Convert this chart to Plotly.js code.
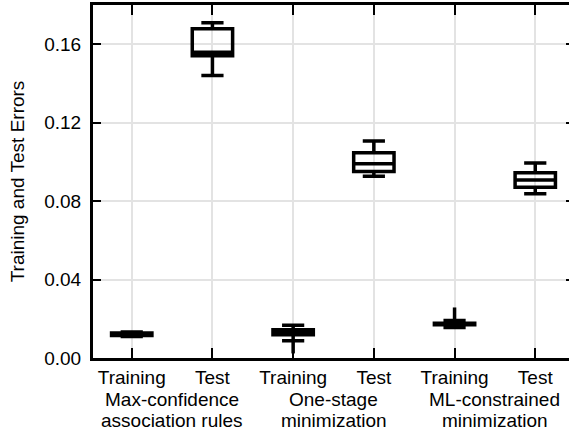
<!DOCTYPE html>
<html>
<head>
<meta charset="utf-8">
<script src="https://cdn.plot.ly/plotly-3.0.1.min.js"></script>
<style>
html, body { margin: 0; padding: 0; overflow: hidden; background: #fff; }
#chart { width: 574px; height: 432px; }
</style>
</head>
<body>
<div id="chart"></div>
<script>
// Category positions and labels
var positions = [1, 2, 3, 4, 5, 6];
var tickLabels = ['Training', 'Test', 'Training', 'Test', 'Training', 'Test'];
var groupCenters = [1.5, 3.5, 5.5];
var groupLine1 = ['Max-confidence', 'One-stage', 'ML-constrained'];
var groupLine2 = ['association rules', 'minimization', 'minimization'];

// Box statistics (training / test errors)
var lowerFence = [0.0110, 0.1441, 0.0088, 0.0927, 0.0155, 0.0837];
var q1         = [0.0115, 0.1541, 0.0118, 0.0951, 0.0169, 0.0871];
var median     = [0.0121, 0.1559, 0.0131, 0.0990, 0.0173, 0.0908];
var q3         = [0.0127, 0.1679, 0.0144, 0.1046, 0.0177, 0.0944];
var upperFence = [0.0132, 0.1709, 0.0167, 0.1106, 0.0191, 0.0994];

// Outliers
var outlierX = [3, 5];
var outlierY = [0.0059, 0.0222];

var yTicks = [0, 0.04, 0.08, 0.12, 0.16];

var FONT = 'Liberation Sans, Arial, Helvetica, sans-serif';

var traces = [
  {
    type: 'box',
    x: positions,
    q1: q1,
    median: median,
    q3: q3,
    lowerfence: lowerFence,
    upperfence: upperFence,
    width: 0.5,
    whiskerwidth: 0.55,
    boxpoints: false,
    fillcolor: 'rgba(0,0,0,0)',
    line: { color: '#000', width: 3.5 },
    showlegend: false,
    hoverinfo: 'skip'
  },
  {
    type: 'scatter',
    mode: 'markers',
    x: outlierX,
    y: outlierY,
    marker: { symbol: 'line-ns', size: 10, color: '#000', line: { color: '#000', width: 3.5 } },
    showlegend: false,
    hoverinfo: 'skip'
  }
];

var annotations = [];
for (var i = 0; i < groupCenters.length; i++) {
  annotations.push({
    x: groupCenters[i], xref: 'x', y: -0.117, yref: 'paper',
    text: groupLine1[i], showarrow: false, yanchor: 'middle', xanchor: 'center',
    font: { family: FONT, size: 19, color: '#000' }
  });
  annotations.push({
    x: groupCenters[i], xref: 'x', y: -0.176, yref: 'paper',
    text: groupLine2[i], showarrow: false, yanchor: 'middle', xanchor: 'center',
    font: { family: FONT, size: 19, color: '#000' }
  });
}

var layout = {
  width: 574,
  height: 432,
  margin: { l: 93, r: 0, t: 5, b: 74 },
  paper_bgcolor: '#fff',
  plot_bgcolor: '#fff',
  font: { family: FONT, size: 19, color: '#000' },
  showlegend: false,
  xaxis: {
    range: [0.52, 6.48],
    tickvals: positions,
    ticktext: tickLabels,
    ticks: 'inside',
    ticklen: 10,
    tickwidth: 2,
    tickcolor: '#000',
    showline: true,
    linewidth: 3,
    linecolor: '#000',
    mirror: 'ticks',
    showgrid: true,
    gridcolor: '#e3e3e3',
    gridwidth: 2,
    zeroline: false,
    tickfont: { family: FONT, size: 19, color: '#000' }
  },
  yaxis: {
    range: [0, 0.18],
    tickvals: yTicks,
    tickformat: '.2f',
    ticks: 'inside',
    ticklen: 8,
    tickwidth: 2,
    tickcolor: '#000',
    showline: true,
    linewidth: 3,
    linecolor: '#000',
    mirror: 'ticks',
    showgrid: true,
    gridcolor: '#e3e3e3',
    gridwidth: 2,
    zeroline: false,
    ticklabelstandoff: 5,
    tickfont: { family: FONT, size: 19, color: '#000' },
    title: { text: 'Training and Test Errors', font: { family: FONT, size: 19, color: '#000' }, standoff: 15 }
  },
  annotations: annotations
};

Plotly.newPlot('chart', traces, layout, { displayModeBar: false, staticPlot: true });
</script>
</body>
</html>
